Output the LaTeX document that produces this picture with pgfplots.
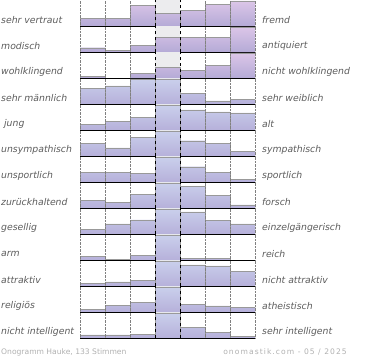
\documentclass[border=0pt]{standalone}
\usepackage{fontspec}
\setmainfont{DejaVu Sans}
\newfontfamily\spacedfont[LetterSpace=14]{DejaVu Sans}
\usepackage{pgfplots}
\pgfplotsset{compat=1.18}
\definecolor{labgray}{RGB}{92,92,92}
\definecolor{footgray}{RGB}{176,176,176}
\definecolor{bggray}{RGB}{236,236,238}
\definecolor{pinkTop}{RGB}{220,198,232}
\definecolor{pinkMid}{RGB}{204,204,234}
\definecolor{pinkBot}{RGB}{180,170,214}
\definecolor{blueTop}{RGB}{202,208,236}
\definecolor{blueMid}{RGB}{198,204,234}
\definecolor{blueBot}{RGB}{182,176,218}
\pgfplotsset{
  rowaxis/.style={
    scale only axis, width=175pt, height=26pt, anchor=south west,
    xmin=0.5, xmax=7.5, ymin=0, ymax=102,
    axis on top,
    axis x line*=bottom, axis y line=none,
    x axis line style={black, line width=1.1pt, -},
    xtick={0.5,1.5,2.5,5.5,6.5,7.5}, xticklabels={}, major tick length=0pt,
    xmajorgrids, grid style={densely dotted, gray, line width=0.4pt},
    extra x ticks={3.5,4.5}, extra x tick labels={},
    extra x tick style={grid style={black, dashed, line width=0.6pt}},
    every axis plot/.append style={ybar, bar width=1, bar shift=0pt},
  },
  bg/.style={fill=bggray, draw=none},
  barsP/.style={top color=pinkTop, middle color=pinkMid, bottom color=pinkBot, draw=gray!80, line width=0.4pt},
  barsB/.style={top color=blueTop, middle color=blueMid, bottom color=blueBot, draw=gray!80, line width=0.4pt},
}
\tikzset{lab/.style={font=\fontsize{9.3}{10}\selectfont\itshape, text=labgray, anchor=west, inner sep=0pt}}
\begin{document}
\begin{tikzpicture}
\path (0,0) rectangle (370pt,-360pt);
% row 1
\begin{axis}[rowaxis, at={(80pt,-26pt)}]
\addplot[bg] coordinates {(4,102)};
\addplot[barsP] coordinates {(1,32)(2,32)(3,81)(4,52)(5,63)(6,85)(7,100)};
\end{axis}
% row 2
\begin{axis}[rowaxis, at={(80pt,-52pt)}]
\addplot[bg] coordinates {(4,102)};
\addplot[barsP] coordinates {(1,18)(2,9)(3,28)(4,58)(5,58)(6,60)(7,100)};
\end{axis}
% row 3
\begin{axis}[rowaxis, at={(80pt,-78pt)}]
\addplot[bg] coordinates {(4,102)};
\addplot[barsP] coordinates {(1,7)(3,20)(4,42)(5,30)(6,52)(7,100)};
\end{axis}
% row 4
\begin{axis}[rowaxis, at={(80pt,-104pt)}]
\addplot[bg] coordinates {(4,102)};
\addplot[barsB] coordinates {(1,63)(2,72)(3,100)(4,100)(5,43)(6,13)(7,19)};
\end{axis}
% row 5
\begin{axis}[rowaxis, at={(80pt,-130pt)}]
\addplot[bg] coordinates {(4,102)};
\addplot[barsB] coordinates {(1,23)(2,36)(3,52)(4,100)(5,80)(6,72)(7,68)};
\end{axis}
% row 6
\begin{axis}[rowaxis, at={(80pt,-156pt)}]
\addplot[bg] coordinates {(4,102)};
\addplot[barsB] coordinates {(1,52)(2,33)(3,75)(4,100)(5,61)(6,52)(7,20)};
\end{axis}
% row 7
\begin{axis}[rowaxis, at={(80pt,-182pt)}]
\addplot[bg] coordinates {(4,102)};
\addplot[barsB] coordinates {(1,39)(2,39)(3,35)(4,100)(5,61)(6,40)(7,11)};
\end{axis}
% row 8
\begin{axis}[rowaxis, at={(80pt,-208pt)}]
\addplot[bg] coordinates {(4,102)};
\addplot[barsB] coordinates {(1,32)(2,24)(3,56)(4,100)(5,87)(6,52)(7,13)};
\end{axis}
% row 9
\begin{axis}[rowaxis, at={(80pt,-234pt)}]
\addplot[bg] coordinates {(4,102)};
\addplot[barsB] coordinates {(1,20)(2,41)(3,57)(4,100)(5,88)(6,56)(7,41)};
\end{axis}
% row 10
\begin{axis}[rowaxis, at={(80pt,-260pt)}]
\addplot[bg] coordinates {(4,102)};
\addplot[barsB] coordinates {(1,15)(2,5)(3,20)(4,100)(5,9)(6,9)};
\end{axis}
% row 11
\begin{axis}[rowaxis, at={(80pt,-286pt)}]
\addplot[bg] coordinates {(4,102)};
\addplot[barsB] coordinates {(1,11)(2,17)(3,24)(4,100)(5,84)(6,80)(7,60)};
\end{axis}
% row 12
\begin{axis}[rowaxis, at={(80pt,-312pt)}]
\addplot[bg] coordinates {(4,102)};
\addplot[barsB] coordinates {(1,12)(2,28)(3,40)(4,100)(5,32)(6,25)(7,20)};
\end{axis}
% row 13
\begin{axis}[rowaxis, at={(80pt,-338pt)}]
\addplot[bg] coordinates {(4,102)};
\addplot[barsB] coordinates {(1,13)(2,13)(3,16)(4,100)(5,43)(6,23)(7,9)};
\end{axis}
% labels
\node[lab] at (1pt,-20pt) {sehr vertraut};
\node[lab] at (1pt,-46pt) {modisch};
\node[lab] at (1pt,-72pt) {wohlklingend};
\node[lab] at (1pt,-98pt) {sehr männlich};
\node[lab] at (1pt,-124pt) {\ jung};
\node[lab] at (1pt,-150pt) {unsympathisch};
\node[lab] at (1pt,-176pt) {unsportlich};
\node[lab] at (1pt,-202pt) {zurückhaltend};
\node[lab] at (1pt,-228pt) {gesellig};
\node[lab] at (1pt,-254pt) {arm};
\node[lab] at (1pt,-280pt) {attraktiv};
\node[lab] at (1pt,-306pt) {religiös};
\node[lab] at (1pt,-332pt) {nicht intelligent};
\node[lab] at (262pt,-20pt) {fremd};
\node[lab] at (262pt,-46pt) {antiquiert};
\node[lab] at (262pt,-72pt) {nicht wohlklingend};
\node[lab] at (262pt,-98pt) {sehr weiblich};
\node[lab] at (262pt,-124pt) {alt};
\node[lab] at (262pt,-150pt) {sympathisch};
\node[lab] at (262pt,-176pt) {sportlich};
\node[lab] at (262pt,-202pt) {forsch};
\node[lab] at (262pt,-228pt) {einzelgängerisch};
\node[lab] at (262pt,-254pt) {reich};
\node[lab] at (262pt,-280pt) {nicht attraktiv};
\node[lab] at (262pt,-306pt) {atheistisch};
\node[lab] at (262pt,-332pt) {sehr intelligent};
\node[font=\fontsize{7.6}{9}\selectfont, text=footgray, anchor=west, inner sep=0pt] at (1pt,-352pt) {Onogramm Hauke, 133 Stimmen};
\node[font=\spacedfont\fontsize{7.6}{9}\selectfont, text=footgray, anchor=east, inner sep=0pt] at (347pt,-352pt) {onomastik.com - 05 / 2025};
\end{tikzpicture}
\end{document}
